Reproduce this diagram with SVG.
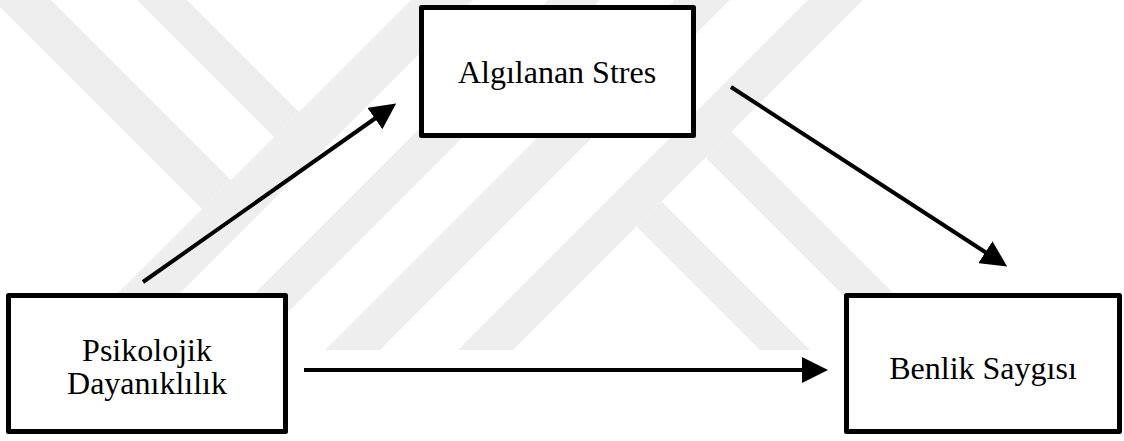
<svg xmlns="http://www.w3.org/2000/svg" width="1124" height="441" viewBox="0 0 1124 441">
  <style>
    .wm { fill: #eeeeee; stroke: none; }
    .box { fill: #ffffff; stroke: #000000; stroke-width: 5; stroke-linejoin: round; }
    .lbl { font-family: "Liberation Serif", "Times New Roman", serif; font-size: 32px; fill: #000000; text-anchor: middle; }
    .conn { stroke: #000000; stroke-width: 4; fill: none; marker-end: url(#ah); }
  </style>
  <defs>
    <marker id="ah" markerWidth="27" markerHeight="26" refX="1" refY="13" orient="auto" markerUnits="userSpaceOnUse">
      <path d="M0,0 L26,13 L0,26 Z" fill="#000000"/>
    </marker>
  </defs>
  <rect x="0" y="0" width="1124" height="441" fill="#ffffff"/>
  <g id="watermark">
    <polygon class="wm" points="411,0 473,0 123,350 61,350"/>
    <polygon class="wm" points="-7,0 51,0 231,180 202,209"/>
    <polygon class="wm" points="137,0 187,0 299,112 274,137"/>
    <polygon class="wm" points="548,0 600,0 250,350 198,350"/>
    <polygon class="wm" points="675,0 730,0 380,350 325,350"/>
    <polygon class="wm" points="808,0 863,0 513,350 458,350"/>
    <polygon class="wm" points="636.5,226.5 661.5,201.5 810,350 760,350"/>
    <polygon class="wm" points="705.5,157.5 731.5,131.5 950,350 898,350"/>
  </g>
  <g id="connectors">
    <line class="conn" x1="143" y1="282" x2="375.7" y2="118"/>
    <line class="conn" x1="731" y1="87" x2="986.2" y2="252.8"/>
    <line class="conn" x1="304" y1="370" x2="803" y2="370"/>
  </g>
  <g id="node-algilanan-stres">
    <rect class="box" x="421.5" y="7.5" width="272" height="128"/>
    <text class="lbl" x="557" y="83">Algılanan Stres</text>
  </g>
  <g id="node-psikolojik-dayaniklilik">
    <rect class="box" x="8.5" y="295.5" width="277" height="136"/>
    <text class="lbl" x="147" y="361">Psikolojik</text>
    <text class="lbl" x="147" y="394">Dayanıklılık</text>
  </g>
  <g id="node-benlik-saygisi">
    <rect class="box" x="846.5" y="295.5" width="273" height="136"/>
    <text class="lbl" x="983" y="379">Benlik Saygısı</text>
  </g>
</svg>
